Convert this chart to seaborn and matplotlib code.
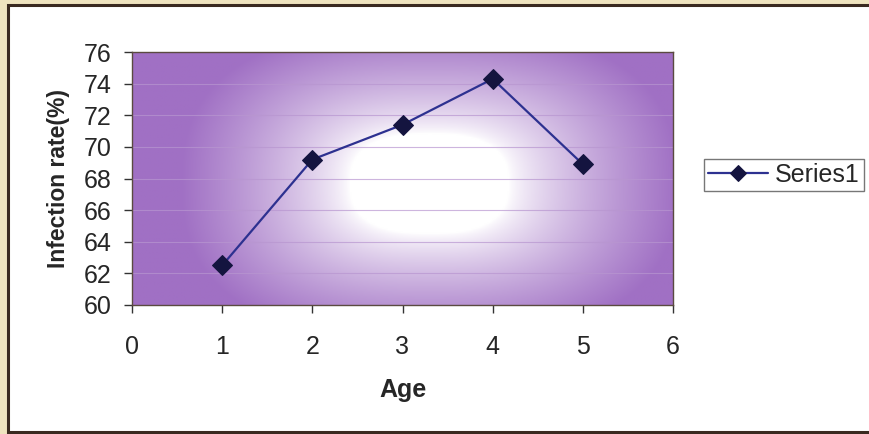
import numpy as np
import pandas as pd
import matplotlib
matplotlib.use("Agg")
import matplotlib.pyplot as plt
import seaborn as sns
from matplotlib.patches import Rectangle
from matplotlib.colors import to_rgb

# data
age = [1, 2, 3, 4, 5]
infection_rate = [62.5, 69.2, 71.4, 74.3, 68.9]
series_name = "Series1"
x_ticks = [0, 1, 2, 3, 4, 5, 6]
y_ticks = [60, 62, 64, 66, 68, 70, 72, 74, 76]

df = pd.DataFrame({"Age": age, "rate": infection_rate, "series": series_name})

sns.set_theme(style="white")
plt.rcParams["font.family"] = ["Liberation Sans", "DejaVu Sans"]

fig = plt.figure(figsize=(8.69, 4.34), dpi=100)
fig.patch.set_facecolor("#efe4bf")
# white chart area with dark frame
frame = Rectangle((8 / 869, 2 / 434), 870 / 869, 427 / 434,
                  transform=fig.transFigure, facecolor="white",
                  edgecolor="#3a2a20", linewidth=2.2, zorder=-10)
fig.add_artist(frame)

ax = fig.add_axes([132 / 869, 1 - 305 / 434, (673 - 132) / 869, (305 - 52) / 434])

# purple "from centre" gradient fill of the plot area
nx, ny = 400, 200
gx, gy = np.meshgrid(np.linspace(0, 1, nx), np.linspace(0, 1, ny))
dx = (gx - 0.55) / 0.46
dy = (gy - 0.48) / 0.62
d = (np.abs(dx) ** 2.6 + np.abs(dy) ** 2.6) ** (1 / 2.6)
t = np.clip((d - 0.32) / 0.68, 0, 1) ** 0.75
purple = np.array(to_rgb("#a070c4"))
img = (1 - t)[..., None] * np.ones(3) + t[..., None] * purple
ax.imshow(img, extent=[0, 1, 0, 1], transform=ax.transAxes, aspect="auto",
          zorder=0, origin="lower")

for yv in y_ticks[1:-1]:
    ax.axhline(yv, color="#b896d0", lw=0.8, alpha=0.7, zorder=1)

sns.lineplot(data=df, x="Age", y="rate", hue="series", palette=["#2d3190"],
             marker="D", markersize=10, markerfacecolor="#14143f",
             markeredgecolor="#14143f", linewidth=1.6, ax=ax, zorder=3)

ax.set_xlim(0, 6)
ax.set_ylim(60, 76)
ax.set_xticks(x_ticks)
ax.set_yticks(y_ticks)
ax.tick_params(axis="both", which="major", labelsize=18, length=5.5, width=1,
               color="#333333", direction="out", left=True, bottom=True)
ax.tick_params(axis="y", pad=9)
ax.tick_params(axis="x", pad=16)
for s in ax.spines.values():
    s.set_color("#5a4a40")
    s.set_linewidth(1)

ax.set_xlabel("Age", fontsize=18, fontweight="bold", labelpad=14)
ax.set_ylabel("Infection rate(%)", fontsize=16.5, fontweight="bold", labelpad=10)

leg = ax.legend(loc="center left", bbox_to_anchor=(704 / 869, 1 - 175 / 434),
                bbox_transform=fig.transFigure, fontsize=18, frameon=True,
                fancybox=False, edgecolor="#555555", handlelength=2.4,
                handletextpad=0.3, borderpad=0.15, borderaxespad=0,
                markerscale=0.8)
leg.get_frame().set_linewidth(1)

fig.savefig("out.png", dpi=100, facecolor=fig.get_facecolor())
